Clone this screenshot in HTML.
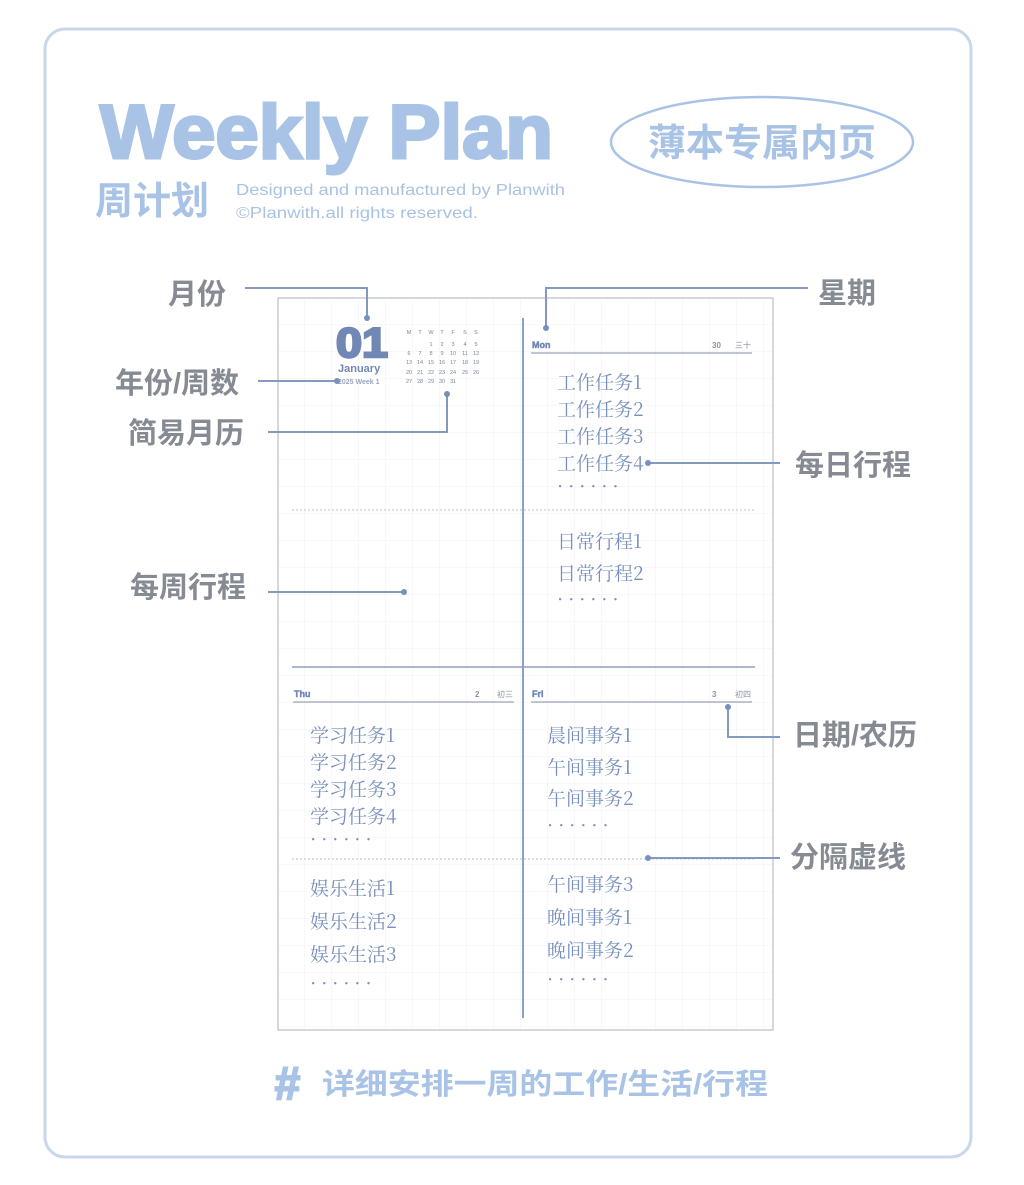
<!DOCTYPE html>
<html><head><meta charset="utf-8"><style>
html,body{margin:0;padding:0;background:#fff;}
svg{display:block;}
</style></head><body>
<svg width="1024" height="1185" viewBox="0 0 1024 1185" xmlns="http://www.w3.org/2000/svg" font-family="Liberation Sans, Noto Sans CJK SC, sans-serif">
<defs>
<pattern id="g" width="27" height="27" patternUnits="userSpaceOnUse" x="278" y="298">
<path d="M27 0V27M0 27H27" stroke="#f0f2f6" stroke-width="1" fill="none"/>
</pattern>
</defs>
<rect x="45" y="29" width="926" height="1128" rx="20" fill="#fff" stroke="#c9d7ea" stroke-width="3"/>
<text x="100" y="158" font-size="76" font-weight="bold" fill="#a9c3e6" stroke="#a9c3e6" stroke-width="3" textLength="453" lengthAdjust="spacingAndGlyphs">Weekly Plan</text>
<text x="95" y="214" font-size="38" font-weight="bold" fill="#a9c3e6">周计划</text>
<text x="236" y="195" font-size="16" fill="#aac2e2" textLength="329" lengthAdjust="spacingAndGlyphs">Designed and manufactured by Planwith</text>
<text x="236" y="218" font-size="16" fill="#aac2e2" textLength="242" lengthAdjust="spacingAndGlyphs">©Planwith.all rights reserved.</text>
<ellipse cx="762" cy="142" rx="151" ry="45" fill="none" stroke="#a9c3e6" stroke-width="2.5"/>
<text x="762" y="156" font-size="38" font-weight="bold" fill="#a9c3e6" text-anchor="middle">薄本专属内页</text>

<rect x="278" y="298" width="495" height="732" fill="url(#g)" stroke="#b9bec6" stroke-width="1.2"/>
<line x1="523" y1="318" x2="523" y2="1018" stroke="#8ea0c2" stroke-width="2"/>
<!-- month block -->
<text x="336" y="357" font-size="42" font-weight="bold" fill="#7188b5" stroke="#7188b5" stroke-width="2.5" textLength="52" lengthAdjust="spacingAndGlyphs">01</text>
<text x="338" y="372" font-size="11" font-weight="bold" fill="#7188b5">January</text>
<text x="338" y="384" font-size="7" font-weight="bold" fill="#9aa6ba">2025 Week 1</text>
<g font-size="5.5" fill="#7a869c" text-anchor="middle">
<text y="334"><tspan x="409">M</tspan><tspan x="420">T</tspan><tspan x="431">W</tspan><tspan x="442">T</tspan><tspan x="453">F</tspan><tspan x="465">S</tspan><tspan x="476">S</tspan></text>
<text y="346"><tspan x="431">1</tspan><tspan x="442">2</tspan><tspan x="453">3</tspan><tspan x="465">4</tspan><tspan x="476">5</tspan></text>
<text y="355"><tspan x="409">6</tspan><tspan x="420">7</tspan><tspan x="431">8</tspan><tspan x="442">9</tspan><tspan x="453">10</tspan><tspan x="465">11</tspan><tspan x="476">12</tspan></text>
<text y="364"><tspan x="409">13</tspan><tspan x="420">14</tspan><tspan x="431">15</tspan><tspan x="442">16</tspan><tspan x="453">17</tspan><tspan x="465">18</tspan><tspan x="476">19</tspan></text>
<text y="374"><tspan x="409">20</tspan><tspan x="420">21</tspan><tspan x="431">22</tspan><tspan x="442">23</tspan><tspan x="453">24</tspan><tspan x="465">25</tspan><tspan x="476">26</tspan></text>
<text y="383"><tspan x="409">27</tspan><tspan x="420">28</tspan><tspan x="431">29</tspan><tspan x="442">30</tspan><tspan x="453">31</tspan></text>
</g>
<!-- headers -->
<text x="532" y="348" font-size="9" font-weight="bold" fill="#7188b5" stroke="#7188b5" stroke-width="0.5">Mon</text>
<text x="712" y="348" font-size="8" font-weight="bold" fill="#8a93a3">30</text>
<text x="735" y="348" font-size="8" fill="#8a93a3">三十</text>
<line x1="531" y1="353" x2="752" y2="353" stroke="#aab3c2" stroke-width="1.5"/>
<line x1="292" y1="510" x2="755" y2="510" stroke="#b8bfca" stroke-width="1" stroke-dasharray="2,2"/>
<line x1="292" y1="667" x2="755" y2="667" stroke="#8ea0c2" stroke-width="1.5"/>
<text x="294" y="697" font-size="9" font-weight="bold" fill="#7188b5" stroke="#7188b5" stroke-width="0.5">Thu</text>
<text x="475" y="697" font-size="8" font-weight="bold" fill="#8a93a3">2</text>
<text x="497" y="697" font-size="8" fill="#8a93a3">初三</text>
<line x1="293" y1="702" x2="514" y2="702" stroke="#aab3c2" stroke-width="1.5"/>
<text x="532" y="697" font-size="9" font-weight="bold" fill="#7188b5" stroke="#7188b5" stroke-width="0.5">Fri</text>
<text x="712" y="697" font-size="8" font-weight="bold" fill="#8a93a3">3</text>
<text x="735" y="697" font-size="8" fill="#8a93a3">初四</text>
<line x1="531" y1="702" x2="752" y2="702" stroke="#aab3c2" stroke-width="1.5"/>
<line x1="292" y1="859" x2="755" y2="859" stroke="#b8bfca" stroke-width="1" stroke-dasharray="2,2"/>
<!-- handwriting -->
<g font-size="19" fill="#7890bd" font-family="Noto Serif CJK SC, WenQuanYi Zen Hei, serif">
<text x="557" y="389">工作任务1</text><text x="557" y="416">工作任务2</text><text x="557" y="443">工作任务3</text><text x="557" y="470">工作任务4</text><text x="557" y="493">· · · · · ·</text>
<text x="557" y="548">日常行程1</text><text x="557" y="580">日常行程2</text><text x="557" y="606">· · · · · ·</text>
<text x="310" y="742">学习任务1</text><text x="310" y="769">学习任务2</text><text x="310" y="796">学习任务3</text><text x="310" y="823">学习任务4</text><text x="310" y="846">· · · · · ·</text>
<text x="310" y="895">娱乐生活1</text><text x="310" y="928">娱乐生活2</text><text x="310" y="961">娱乐生活3</text><text x="310" y="990">· · · · · ·</text>
<text x="547" y="742">晨间事务1</text><text x="547" y="774">午间事务1</text><text x="547" y="805">午间事务2</text><text x="547" y="832">· · · · · ·</text>
<text x="547" y="891">午间事务3</text><text x="547" y="924">晚间事务1</text><text x="547" y="957">晚间事务2</text><text x="547" y="986">· · · · · ·</text>
</g>
<!-- connectors -->
<g stroke="#8499bf" stroke-width="2" fill="none">
<path d="M245 288H367V318"/><path d="M808 288H546V328"/><path d="M258 381H336"/>
<path d="M268 432H447V394"/><path d="M268 592H404"/><path d="M648 463H780"/>
<path d="M728 707V737H780"/><path d="M648 858H780"/>
</g>
<g fill="#7890bd">
<circle cx="367" cy="318" r="3"/><circle cx="546" cy="328" r="3"/><circle cx="337" cy="381" r="3"/>
<circle cx="447" cy="394" r="3"/><circle cx="404" cy="592" r="3"/><circle cx="648" cy="463" r="3"/>
<circle cx="728" cy="707" r="3"/><circle cx="648" cy="858" r="3"/>
</g>
<g font-size="29" font-weight="bold" fill="#868b93">
<text x="168" y="304">月份</text><text x="115" y="393">年份/周数</text><text x="128" y="443">简易月历</text>
<text x="130" y="597">每周行程</text><text x="818" y="303">星期</text><text x="795" y="475">每日行程</text>
<text x="793" y="745">日期/农历</text><text x="790" y="867">分隔虚线</text>
</g>
<text x="274" y="1099" font-size="46" font-weight="bold" font-style="italic" fill="#a9c3e6" stroke="#a9c3e6" stroke-width="2">#</text>
<text x="322" y="1094" font-size="29" font-weight="bold" fill="#a9c3e6" textLength="446" lengthAdjust="spacingAndGlyphs">详细安排一周的工作/生活/行程</text>
</svg>
</body></html>
